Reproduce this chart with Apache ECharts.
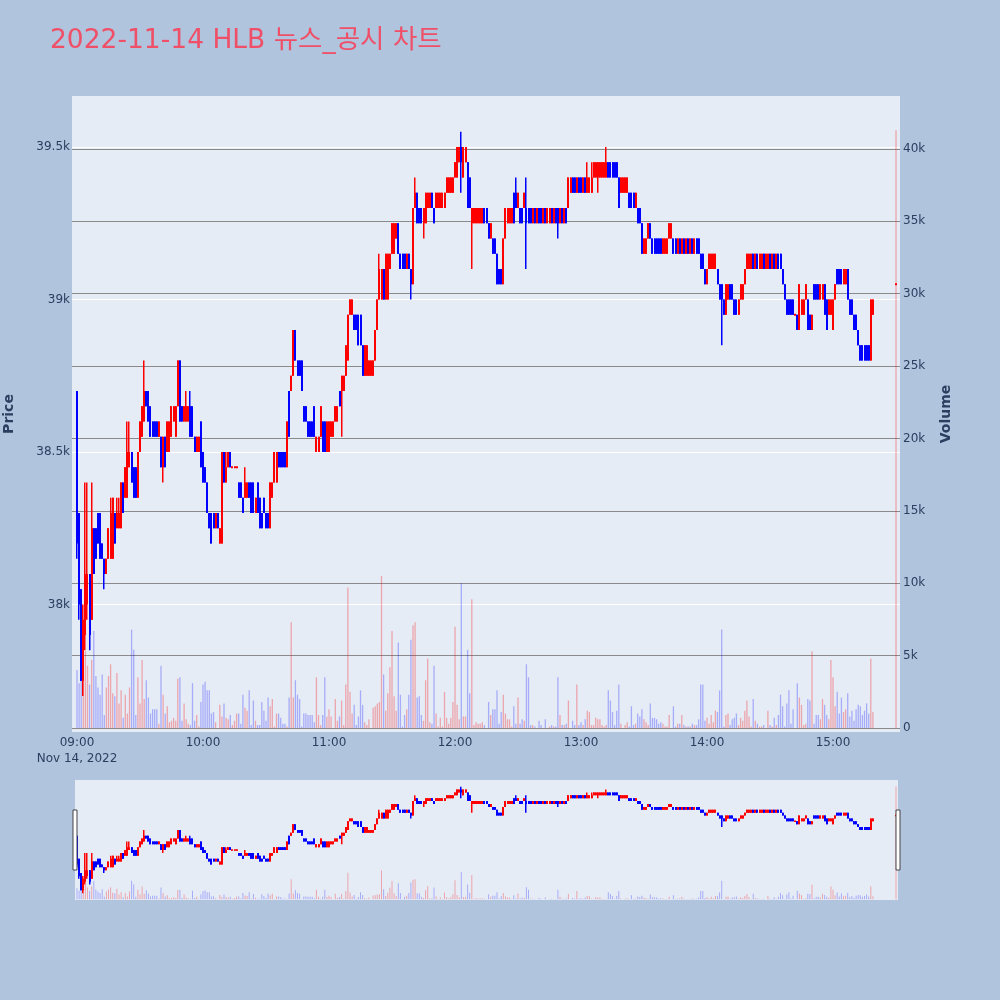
<!DOCTYPE html>
<html>
<head>
<meta charset="utf-8">
<script src="https://cdn.jsdelivr.net/npm/echarts@6/dist/echarts.min.js"></script>
<style>html,body{margin:0;padding:0;background:#B0C4DE;}#chart{width:1000px;height:1000px;}</style>
</head>
<body>
<div id="chart"></div>
<script>
const titleText = '2022-11-14 HLB 뉴스_공시 차트';
const dateLabel = 'Nov 14, 2022';
const timeTickLabels = ['09:00','10:00','11:00','12:00','13:00','14:00','15:00'];
const timeTickMinutes = [0,60,120,180,240,300,360];
const priceTickValues = [38000,38500,39000,39500];
const priceTickLabels = ['38k','38.5k','39k','39.5k'];
const volumeTickValues = [0,5000,10000,15000,20000,25000,30000,35000,40000];
const volumeTickLabels = ['0','5k','10k','15k','20k','25k','30k','35k','40k'];
const closingAuctionMinute = 390;

const opens = [
38700,38300,38050,37750,37900,38000,38100,37950,38250,38250,
38300,38300,38200,38150,38100,38150,38150,38150,38300,38250,
38250,38250,38400,38350,38350,38450,38500,38450,38450,38350,
38500,38550,38600,38700,38700,38650,38600,38600,38600,38550,
38550,38450,38550,38500,38500,38550,38600,38550,38650,38800,
38650,38600,38600,38600,38650,38650,38550,38500,38500,38600,
38500,38450,38400,38300,38300,38300,38250,38300,38200,38200,
38500,38400,38450,38500,38450,38450,38450,38400,38400,38350,
38350,38350,38400,38400,38400,38300,38400,38350,38300,38350,
38300,38300,38250,38350,38400,38400,38500,38500,38500,38500,
38450,38700,38700,38750,38900,38800,38800,38800,38650,38650,
38600,38600,38600,38650,38500,38500,38550,38600,38600,38500,
38500,38550,38550,38600,38600,38700,38700,38700,38750,38800,
38950,38950,38950,38950,38950,38950,38850,38750,38750,38750,
38750,38750,38800,38900,39000,39000,39100,39000,39000,39100,
39150,39150,39200,39250,39150,39150,39150,39100,39150,39100,
39050,39300,39350,39300,39300,39250,39250,39300,39300,39350,
39300,39300,39300,39300,39300,39300,39350,39350,39350,39350,
39400,39400,39450,39500,39400,39450,39450,39400,39250,39250,
39250,39250,39250,39250,39300,39300,39250,39200,39200,39200,
39150,39100,39100,39050,39200,39250,39250,39250,39350,39350,
39300,39300,39300,39300,39300,39300,39300,39250,39300,39250,
39300,39300,39250,39300,39250,39250,39300,39250,39300,39300,
39250,39300,39250,39300,39300,39350,39400,39400,39350,39400,
39400,39350,39400,39350,39350,39350,39400,39400,39400,39400,
39400,39400,39400,39450,39450,39450,39450,39450,39400,39350,
39350,39350,39350,39350,39350,39350,39300,39300,39300,39250,
39150,39150,39200,39250,39200,39200,39200,39200,39200,39150,
39150,39150,39200,39200,39200,39200,39150,39200,39150,39200,
39150,39200,39150,39200,39150,39200,39200,39150,39150,39100,
39050,39100,39100,39100,39100,39100,39050,39050,39000,38950,
39000,39050,39050,39000,39000,38950,39000,39000,39050,39100,
39100,39100,39150,39100,39150,39100,39100,39150,39100,39100,
39150,39100,39150,39100,39150,39150,39100,39050,39000,39000,
39000,39000,38950,38950,38900,38950,38950,39000,39000,38950,
38900,39050,39050,39050,39000,39000,39050,39000,38950,38950,
38900,39000,39100,39100,39100,39050,39050,39100,39000,39000,
38950,38950,38900,38850,38850,38850,38850,38850,38800,38950,
39050];
const closes = [
38200,38000,37750,37950,38100,38100,37900,38250,38100,38150,
38200,38150,38150,38100,38150,38250,38300,38350,38200,38300,
38300,38400,38300,38450,38500,38500,38400,38350,38350,38500,
38600,38650,38700,38650,38600,38550,38550,38550,38550,38600,
38450,38550,38450,38600,38600,38650,38650,38650,38800,38600,
38600,38650,38650,38650,38550,38550,38500,38550,38550,38450,
38400,38400,38300,38250,38200,38250,38300,38250,38250,38500,
38400,38450,38500,38450,38450,38450,38450,38350,38350,38300,
38400,38400,38350,38300,38300,38350,38300,38250,38250,38300,
38250,38250,38400,38400,38500,38500,38450,38450,38450,38450,
38600,38550,38750,38900,38800,38750,38750,38700,38600,38600,
38550,38550,38550,38550,38550,38550,38650,38500,38500,38600,
38600,38600,38600,38650,38650,38650,38750,38750,38850,38950,
39000,39000,38900,38900,38850,38850,38750,38850,38850,38800,
38800,38800,38900,39000,39100,39100,39000,39150,39150,39150,
39250,39250,39250,39150,39100,39100,39100,39150,39100,39050,
39300,39350,39250,39250,39250,39300,39350,39350,39350,39300,
39250,39350,39350,39350,39350,39350,39400,39400,39400,39400,
39450,39500,39500,39450,39500,39500,39300,39300,39300,39300,
39300,39300,39300,39300,39250,39250,39200,39250,39150,39150,
39050,39050,39050,39200,39300,39300,39300,39300,39250,39300,
39350,39250,39250,39350,39250,39250,39250,39300,39250,39300,
39250,39250,39300,39250,39300,39300,39250,39300,39250,39250,
39300,39250,39300,39250,39400,39400,39350,39350,39400,39350,
39350,39400,39350,39400,39400,39400,39450,39450,39450,39450,
39450,39450,39450,39400,39400,39400,39400,39400,39300,39400,
39400,39400,39400,39300,39300,39300,39350,39250,39250,39150,
39200,39200,39250,39200,39150,39150,39150,39150,39150,39200,
39200,39200,39250,39250,39150,39150,39200,39150,39200,39150,
39200,39150,39200,39150,39200,39150,39150,39100,39100,39050,
39100,39150,39150,39150,39150,39050,39000,39000,38950,39050,
39050,39000,39000,38950,38950,39000,39050,39050,39100,39150,
39150,39150,39100,39150,39100,39150,39150,39100,39150,39150,
39100,39150,39100,39150,39100,39100,39050,39000,38950,38950,
38950,38950,38950,38900,39050,39000,39000,39050,38900,38900,
38950,39000,39000,39000,39050,39050,38950,38900,39000,39000,
39000,39050,39050,39050,39050,39100,39100,39000,38950,38950,
38900,38900,38850,38800,38800,38800,38800,38800,39000,39000,
39050];
const highs = [
38700,38300,38050,38000,38400,38400,38100,38400,38250,38250,
38300,38300,38200,38150,38150,38250,38350,38350,38300,38350,
38350,38400,38400,38450,38600,38600,38500,38450,38450,38500,
38600,38650,38800,38700,38700,38650,38600,38600,38600,38600,
38550,38550,38550,38600,38600,38650,38650,38650,38800,38800,
38650,38650,38700,38650,38700,38650,38550,38550,38550,38600,
38500,38450,38400,38300,38300,38300,38300,38300,38250,38500,
38500,38500,38500,38500,38450,38450,38450,38400,38400,38350,
38450,38400,38400,38400,38400,38350,38400,38350,38300,38350,
38300,38300,38400,38400,38500,38500,38500,38500,38500,38500,
38600,38700,38750,38900,38900,38800,38800,38800,38650,38650,
38600,38600,38600,38650,38550,38550,38650,38600,38600,38600,
38600,38600,38600,38650,38650,38700,38750,38750,38850,38950,
39000,39000,38950,38950,38950,38950,38850,38850,38850,38800,
38800,38800,38900,39000,39150,39100,39100,39150,39150,39150,
39250,39250,39250,39250,39150,39150,39150,39150,39150,39100,
39300,39400,39350,39300,39300,39300,39350,39350,39350,39350,
39300,39350,39350,39350,39350,39350,39400,39400,39400,39400,
39450,39500,39500,39550,39500,39500,39450,39400,39300,39300,
39300,39300,39300,39300,39300,39300,39250,39250,39200,39200,
39150,39100,39100,39200,39300,39300,39300,39300,39350,39400,
39350,39300,39300,39350,39400,39300,39300,39300,39300,39300,
39300,39300,39300,39300,39300,39300,39300,39300,39300,39300,
39300,39300,39300,39300,39400,39400,39400,39400,39400,39400,
39400,39400,39400,39450,39400,39450,39450,39450,39450,39450,
39450,39450,39500,39450,39450,39450,39450,39450,39400,39400,
39400,39400,39400,39350,39350,39350,39350,39300,39300,39250,
39200,39200,39250,39250,39200,39200,39200,39200,39200,39200,
39200,39200,39250,39250,39200,39200,39200,39200,39200,39200,
39200,39200,39200,39200,39200,39200,39200,39150,39150,39100,
39100,39150,39150,39150,39150,39100,39050,39050,39000,39050,
39050,39050,39050,39000,39000,39000,39050,39050,39100,39150,
39150,39150,39150,39150,39150,39150,39150,39150,39150,39150,
39150,39150,39150,39150,39150,39150,39100,39050,39000,39000,
39000,39000,38950,38950,39050,39000,39000,39050,39000,38950,
38950,39050,39050,39050,39050,39050,39050,39000,39000,39000,
39000,39050,39100,39100,39100,39100,39100,39100,39000,39000,
38950,38950,38900,38850,38850,38850,38850,38850,39000,39000,
39050];
const lows = [
38150,37950,37750,37700,37850,37950,37850,37950,38100,38150,
38200,38150,38150,38050,38100,38150,38150,38150,38200,38250,
38250,38250,38300,38350,38350,38450,38400,38350,38350,38350,
38500,38550,38600,38650,38600,38550,38550,38550,38550,38550,
38450,38400,38450,38500,38500,38550,38600,38550,38650,38600,
38600,38600,38600,38600,38550,38550,38500,38500,38500,38450,
38400,38400,38300,38250,38200,38250,38250,38250,38200,38200,
38400,38400,38450,38450,38450,38450,38450,38350,38350,38300,
38350,38350,38350,38300,38300,38300,38300,38250,38250,38300,
38250,38250,38250,38350,38400,38400,38450,38450,38450,38450,
38450,38550,38700,38750,38800,38750,38750,38700,38600,38600,
38550,38550,38550,38550,38500,38500,38550,38500,38500,38500,
38500,38550,38550,38600,38600,38650,38550,38700,38750,38800,
38950,38950,38900,38900,38850,38850,38750,38750,38750,38750,
38750,38750,38800,38900,39000,39000,39000,39000,39000,39100,
39150,39150,39200,39150,39100,39100,39100,39100,39100,39000,
39050,39300,39250,39250,39250,39200,39250,39300,39300,39300,
39250,39300,39300,39300,39300,39300,39350,39350,39350,39350,
39400,39400,39450,39350,39400,39450,39300,39300,39100,39250,
39250,39250,39250,39250,39250,39250,39200,39200,39150,39150,
39050,39050,39050,39050,39200,39250,39250,39250,39250,39300,
39300,39250,39250,39300,39100,39250,39250,39250,39250,39250,
39250,39250,39250,39250,39250,39250,39250,39250,39250,39200,
39250,39250,39250,39250,39300,39350,39350,39350,39350,39350,
39350,39350,39350,39350,39350,39350,39400,39400,39350,39400,
39400,39400,39400,39400,39400,39400,39400,39400,39300,39350,
39350,39350,39350,39300,39300,39300,39300,39250,39250,39150,
39150,39150,39200,39200,39150,39150,39150,39150,39150,39150,
39150,39150,39200,39200,39150,39150,39150,39150,39150,39150,
39150,39150,39150,39150,39150,39150,39150,39100,39100,39050,
39050,39100,39100,39100,39100,39050,39000,38850,38950,38950,
39000,39000,39000,38950,38950,38950,39000,39000,39050,39100,
39100,39100,39100,39100,39100,39100,39100,39100,39100,39100,
39100,39100,39100,39100,39100,39100,39050,39000,38950,38950,
38950,38950,38950,38900,38900,38950,38950,39000,38900,38900,
38900,39000,39000,39000,39000,39000,38950,38900,38950,38950,
38900,39000,39050,39050,39050,39050,39050,39000,38950,38950,
38900,38900,38850,38800,38800,38800,38800,38800,38800,38950,
39050];
const volumes = [
4000,3100,4500,6000,5300,4300,3000,4700,6700,3600,
2800,2300,3700,900,2800,3600,4400,2400,2200,3800,
1700,2600,700,2300,1000,2800,6800,5400,900,3500,
1700,4700,2000,3300,2100,1000,1300,1300,1300,300,
4300,2300,1000,1500,400,500,700,500,3400,3500,
500,1700,600,300,200,3100,500,900,100,1800,
3000,3200,2600,2600,1000,1100,400,0,1600,800,
1700,700,600,900,200,500,1000,1000,300,2300,
1400,1200,2600,200,1900,500,200,200,1800,1200,
500,2100,1500,2000,100,1000,1000,700,300,300,
100,2100,7300,2100,3300,2300,2000,100,1000,1000,
900,900,900,400,3500,900,200,900,3500,800,
1300,800,0,2000,500,800,1900,200,3000,9700,
2500,1000,1600,200,800,2600,1600,400,200,600,
0,1400,1500,1700,1800,10500,3700,1200,2400,4200,
6700,2200,1200,5900,2300,100,900,1300,2300,6100,
7100,7300,2100,2200,900,500,3300,4800,400,300,
4300,1000,100,700,100,2500,700,300,700,1800,
7000,1600,600,10000,800,800,5400,2400,8900,200,
400,300,300,400,200,0,1800,900,1300,1300,
2600,300,1100,2300,1000,600,600,100,1500,300,
2100,300,600,500,4400,3500,200,200,100,0,
500,200,0,600,0,100,200,100,100,3500,
900,200,200,300,1900,0,500,200,3000,200,
400,200,600,1200,1100,200,200,700,600,600,
200,100,200,2600,1900,1100,200,1200,3000,300,
0,200,400,100,1500,200,300,1000,800,1300,
600,400,200,1700,700,700,600,300,400,300,
100,100,900,0,1500,100,300,300,900,200,
100,100,100,300,200,200,600,3000,3000,500,
700,300,900,400,1200,1100,2600,6800,100,900,
1000,200,600,700,1000,200,700,500,1200,1900,
800,100,2000,500,300,100,100,200,0,1200,
200,100,700,200,900,2300,1500,100,1700,2600,
300,1300,0,3100,2100,1600,200,300,2000,1900,
5300,300,900,900,600,2000,1600,900,600,4700,
3500,1500,2500,1000,2100,1100,1300,2400,800,1200,
500,1300,1600,1500,900,1200,1700,1000,4800,1100,
41300];

// minute offsets from 09:00 for each candle (regular session, then closing auction)
const minuteOffsets = opens.map((_, i) => i < opens.length - 1 ? i : closingAuctionMinute);

const upColor = '#ff0000', downColor = '#0000ff';
function isUp(i) {
  if (closes[i] > opens[i]) return true;
  if (closes[i] < opens[i]) return false;
  return i === 0 ? true : closes[i - 1] <= closes[i];
}
const candleData = opens.map((o, i) => [minuteOffsets[i], o, closes[i], lows[i], highs[i], isUp(i) ? 1 : 0]);
const volData = volumes.map((v, i) => ({
  value: [minuteOffsets[i], v],
  itemStyle: { color: isUp(i) ? 'rgba(255,0,0,0.3)' : 'rgba(0,0,255,0.27)' }
}));

const xMin = -2.38, xMax = 391.9;
const pMin = 37582, pMax = 39667;
const vMin = -276, vMax = 43661;
const font = 'DejaVu Sans, Verdana, sans-serif';
const labelColor = '#2a3f5f';

function makeCandleRenderer(bodyW, wickW, minBody) {
  return function (params, api) {
    const x = api.value(0);
    const pO = api.coord([x, api.value(1)]);
    const pC = api.coord([x, api.value(2)]);
    const pL = api.coord([x, api.value(3)]);
    const pH = api.coord([x, api.value(4)]);
    const color = api.value(5) ? upColor : downColor;
    const cx = Math.round(pO[0]);
    let top = Math.min(pO[1], pC[1]), bot = Math.max(pO[1], pC[1]);
    if (bot - top < minBody) { const m = (top + bot) / 2; top = m - minBody / 2; bot = m + minBody / 2; }
    return {
      type: 'group',
      children: [
        { type: 'rect', shape: { x: cx - 1, y: pH[1], width: wickW, height: Math.max(pL[1] - pH[1], 0.5) }, style: { fill: color } },
        { type: 'rect', shape: { x: cx - bodyW / 2, y: top, width: bodyW, height: bot - top }, style: { fill: color } }
      ]
    };
  };
}

const chart = echarts.init(document.getElementById('chart'), null, { renderer: 'canvas' });

chart.setOption({
  backgroundColor: '#B0C4DE',
  animation: false,
  title: {
    text: titleText, left: 50, top: 28, padding: 0,
    textStyle: { color: '#EF5068', fontSize: 26.5, fontWeight: 'normal', fontFamily: 'DejaVu Sans, Noto Sans CJK KR, sans-serif' }
  },
  graphic: [
    { type: 'rect', shape: { x: 75, y: 780, width: 823, height: 120 }, style: { fill: '#E5ECF6' }, z: 0 },
    { type: 'rect', shape: { x: 73, y: 810, width: 4, height: 60 }, style: { fill: '#ffffff', stroke: '#444444', lineWidth: 1 }, z: 100 },
    { type: 'rect', shape: { x: 896, y: 810, width: 4, height: 60 }, style: { fill: '#ffffff', stroke: '#444444', lineWidth: 1 }, z: 100 }
  ],
  grid: [
    { left: 72, right: 100, top: 96, bottom: 268, show: true, backgroundColor: '#E5ECF6', borderWidth: 0, containLabel: false, outerBoundsMode: 'none' },
    { left: 72, right: 100, top: 780, height: 120, show: false, containLabel: false, outerBoundsMode: 'none' }
  ],
  xAxis: [
    {
      type: 'value', gridIndex: 0, min: xMin, max: xMax,
      axisLine: { show: false },
      axisTick: { show: false, customValues: timeTickMinutes },
      splitLine: { show: false },
      axisLabel: {
        customValues: timeTickMinutes,
        color: labelColor, fontSize: 12, fontFamily: font, margin: 3, lineHeight: 16,
        formatter: v => {
          const k = timeTickMinutes.indexOf(v);
          const t = k >= 0 ? timeTickLabels[k] : '';
          return k === 0 ? t + '\n' + dateLabel : t;
        }
      }
    },
    { type: 'value', gridIndex: 1, min: xMin, max: xMax, show: false }
  ],
  yAxis: [
    {
      type: 'value', gridIndex: 0, position: 'left', min: pMin, max: pMax,
      name: 'Price', nameLocation: 'middle', nameGap: 56, nameRotate: 90,
      nameTextStyle: { color: labelColor, fontSize: 14, fontWeight: 'bold', fontFamily: font },
      axisLine: { show: false },
      axisTick: { show: false, customValues: priceTickValues },
      splitLine: { show: true, lineStyle: { color: '#ffffff', width: 1 } },
      axisLabel: {
        customValues: priceTickValues, color: labelColor, fontSize: 12, fontFamily: font, margin: 2,
        formatter: v => { const k = priceTickValues.indexOf(v); return k >= 0 ? priceTickLabels[k] : ''; }
      }
    },
    {
      type: 'value', gridIndex: 0, position: 'right', min: vMin, max: vMax,
      name: 'Volume', nameLocation: 'middle', nameGap: 39, nameRotate: 90,
      nameTextStyle: { color: labelColor, fontSize: 14, fontWeight: 'bold', fontFamily: font },
      axisLine: { show: false },
      axisTick: { show: false, customValues: volumeTickValues },
      splitLine: { show: true, lineStyle: { color: '#8a8a8a', width: 1 } },
      axisLabel: {
        customValues: volumeTickValues, color: labelColor, fontSize: 12, fontFamily: font, margin: 3,
        formatter: v => { const k = volumeTickValues.indexOf(v); return k >= 0 ? volumeTickLabels[k] : ''; }
      }
    },
    { type: 'value', gridIndex: 1, min: pMin, max: pMax, show: false },
    { type: 'value', gridIndex: 1, min: vMin, max: vMax, show: false }
  ],
  series: [
    { type: 'bar', name: 'Volume', xAxisIndex: 0, yAxisIndex: 1, data: volData, barWidth: 1.3, z: 2 },
    { type: 'custom', name: 'Price', xAxisIndex: 0, yAxisIndex: 0, data: candleData,
      encode: { x: 0, y: [1, 2, 3, 4] }, renderItem: makeCandleRenderer(2, 1.5, 2), clip: true, z: 3 },
    { type: 'bar', xAxisIndex: 1, yAxisIndex: 3, data: volData, barWidth: 1, z: 2 },
    { type: 'custom', xAxisIndex: 1, yAxisIndex: 2, data: candleData,
      encode: { x: 0, y: [1, 2, 3, 4] }, renderItem: makeCandleRenderer(2, 1.5, 1.5), clip: true, z: 3 }
  ]
});
</script>
</body>
</html>
